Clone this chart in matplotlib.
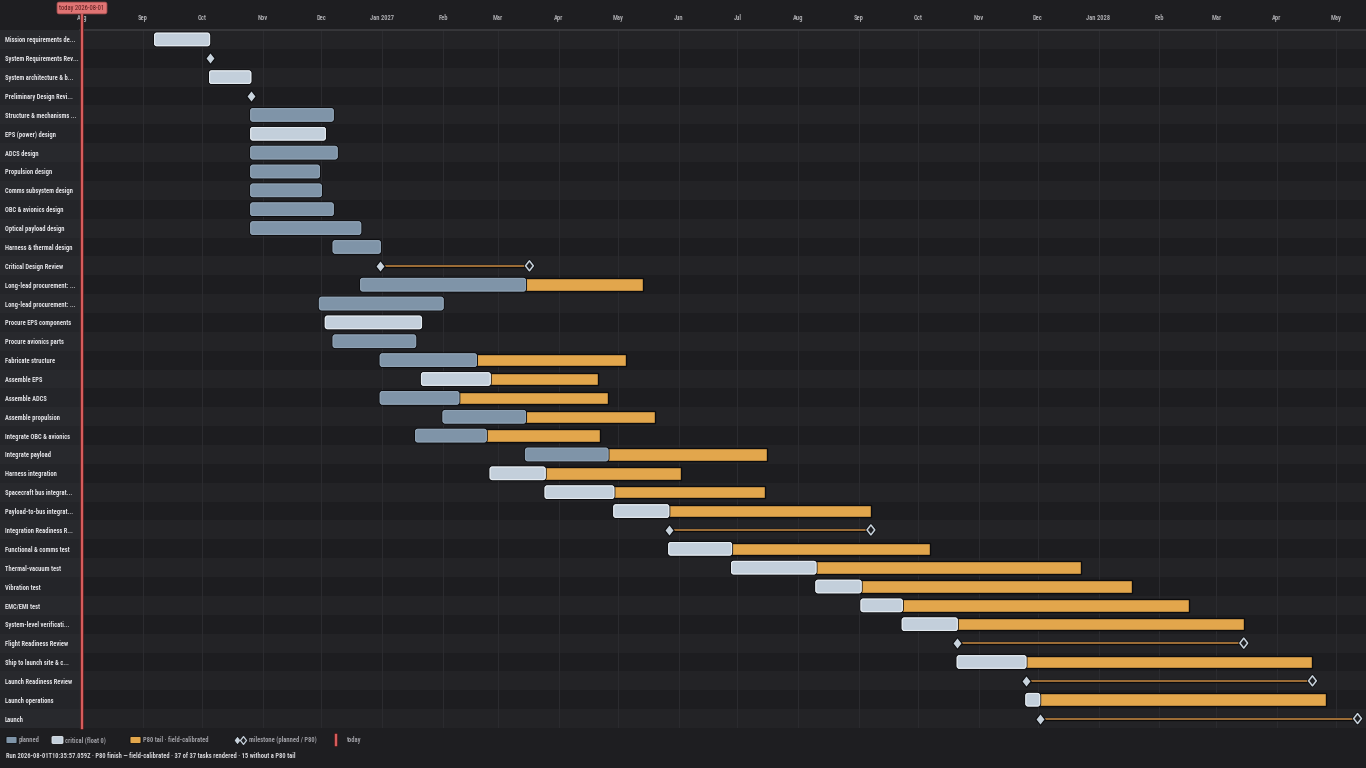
import matplotlib
matplotlib.use("Agg")
import matplotlib.pyplot as plt
import matplotlib.dates as mdates
import matplotlib.patheffects as pe
from matplotlib.patches import FancyBboxPatch, Rectangle
from matplotlib.path import Path
from matplotlib.transforms import blended_transform_factory
from matplotlib import font_manager as fm

# ---------------- data ----------------
task_names = [
    "Mission requirements de...", "System Requirements Rev...", "System architecture & b...",
    "Preliminary Design Revi...", "Structure & mechanisms ...", "EPS (power) design",
    "ADCS design", "Propulsion design", "Comms subsystem design", "OBC & avionics design",
    "Optical payload design", "Harness & thermal design", "Critical Design Review",
    "Long-lead procurement: ...", "Long-lead procurement: ...", "Procure EPS components",
    "Procure avionics parts", "Fabricate structure", "Assemble EPS", "Assemble ADCS",
    "Assemble propulsion", "Integrate OBC & avionics", "Integrate payload",
    "Harness integration", "Spacecraft bus integrat...", "Payload-to-bus integrat...",
    "Integration Readiness R...", "Functional & comms test", "Thermal-vacuum test",
    "Vibration test", "EMC/EMI test", "System-level verificati...", "Flight Readiness Review",
    "Ship to launch site & c...", "Launch Readiness Review", "Launch operations", "Launch",
]
task_kinds = [
    "critical", "milestone", "critical", "milestone", "planned", "critical",
    "planned", "planned", "planned", "planned", "planned", "planned", "milestone",
    "planned", "planned", "critical", "planned", "planned", "critical", "planned",
    "planned", "planned", "planned", "critical", "critical", "critical",
    "milestone", "critical", "critical", "critical", "critical", "critical", "milestone",
    "critical", "milestone", "critical", "milestone",
]
task_starts = [
    "2026-09-07", "2026-10-05", "2026-10-05", "2026-10-26", "2026-10-26", "2026-10-26",
    "2026-10-26", "2026-10-26", "2026-10-26", "2026-10-26", "2026-10-26", "2026-12-07",
    "2026-12-31", "2026-12-21", "2026-11-30", "2026-12-03", "2026-12-07", "2026-12-31",
    "2027-01-21", "2026-12-31", "2027-02-01", "2027-01-18", "2027-03-15", "2027-02-25",
    "2027-03-25", "2027-04-29", "2027-05-27", "2027-05-27", "2027-06-28", "2027-08-10",
    "2027-09-02", "2027-09-23", "2027-10-21", "2027-10-21", "2027-11-25", "2027-11-25",
    "2027-12-02",
]
task_finishes = [
    "2026-10-05", None, "2026-10-26", None, "2026-12-07", "2026-12-03",
    "2026-12-09", "2026-11-30", "2026-12-01", "2026-12-07", "2026-12-21", "2026-12-31",
    None, "2027-03-15", "2027-02-01", "2027-01-21", "2027-01-18", "2027-02-18",
    "2027-02-25", "2027-02-09", "2027-03-15", "2027-02-23", "2027-04-26", "2027-03-25",
    "2027-04-29", "2027-05-27", None, "2027-06-28", "2027-08-10", "2027-09-02",
    "2027-09-23", "2027-10-21", None, "2027-11-25", None, "2027-12-02",
    None,
]
task_p80 = [
    None, None, None, None, None, None,
    None, None, None, None, None, None,
    "2027-03-17", "2027-05-14", None, None, None, "2027-05-05",
    "2027-04-21", "2027-04-26", "2027-05-20", "2027-04-22", "2027-07-16", "2027-06-02",
    "2027-07-15", "2027-09-07", "2027-09-07", "2027-10-07", "2027-12-23", "2028-01-18",
    "2028-02-16", "2028-03-15", "2028-03-15", "2028-04-19", "2028-04-19", "2028-04-26",
    "2028-05-12",
]
today = "2026-08-01"
run_stamp = "2026-08-01T10:35:57.059Z"

# ---------------- style ----------------
W, H = 1366, 768
BG = "#1e1e21"
ROW_A, ROW_B = "#232326", "#1d1d20"
PANEL_A, PANEL_B = "#28292d", "#242529"
PLANNED = "#7f94a8"
CRITICAL = "#c3cfdb"
CRIT_EDGE = "#e4eaf0"
TAIL = "#e2a64c"
OUTLINE = "#0c0c0e"
MS_FILL = "#c8d3dd"
MS_LINE = "#b8803f"
TODAY = "#d65c5c"
GRID = "#2b2b2f"
FS = 4.7

avail = {f.name for f in fm.fontManager.ttflist}
fams = [f for f in ["Roboto Condensed", "IBM Plex Sans Condensed", "Open Sans Condensed",
                    "Liberation Sans Narrow", "DejaVu Sans"] if f in avail] or ["DejaVu Sans"]
plt.rcParams["font.family"] = fams

fig = plt.figure(figsize=(W / 100, H / 100), dpi=100, facecolor=BG)

LEFT, TOP, BOTTOM = 80, 30, 728
ax = fig.add_axes([LEFT / W, 1 - BOTTOM / H, (W - LEFT) / W, (BOTTOM - TOP) / H])
ax.set_facecolor("none")

px_per_day = 1.9624
t0 = mdates.datestr2num(today) - 2 / px_per_day
ax.set_xlim(t0, t0 + (W - LEFT) / px_per_day)
n = len(task_names)
ax.set_ylim(n - 0.5, -0.5)

for s in ax.spines.values():
    s.set_visible(False)

# stripes + label panel
btr = blended_transform_factory(ax.transAxes, ax.transData)
panel_w = LEFT / (W - LEFT)
for i in range(n):
    ax.axhspan(i - 0.5, i + 0.5, color=ROW_A if i % 2 == 0 else ROW_B, lw=0, zorder=0)
    ax.add_patch(Rectangle((-panel_w, i - 0.5), panel_w, 1, transform=btr,
                           color=PANEL_A if i % 2 == 0 else PANEL_B, lw=0,
                           clip_on=False, zorder=0))
ax.plot([0, 0], [-0.5, n - 0.5], transform=btr, color="#2f3034", lw=1, clip_on=False, zorder=1)

# month ticks on top
ax.xaxis.tick_top()
ax.xaxis.set_major_locator(mdates.MonthLocator())
def month_fmt(x, pos=None):
    d = mdates.num2date(x)
    return d.strftime("%b %Y") if d.month == 1 else d.strftime("%b")
ax.xaxis.set_major_formatter(plt.FuncFormatter(month_fmt))
ax.tick_params(axis="x", length=0, pad=5.5, labelsize=FS, labelcolor="#a9a9ad")
for lab in ax.get_xticklabels():
    lab.set_fontweight("bold")
ax.grid(axis="x", color=GRID, lw=0.8, zorder=0.5)
ax.set_axisbelow(True)
ax.axhline(-0.5, color="#3a3a3e", lw=1.2, zorder=1, clip_on=False)

# y labels in the panel
ax.set_yticks(range(n))
ax.set_yticklabels(task_names)
ax.tick_params(axis="y", length=0, pad=(LEFT - 5) * 0.72, labelsize=FS, labelcolor="#e2e2e6")
for lab in ax.get_yticklabels():
    lab.set_horizontalalignment("left")
    lab.set_fontweight("bold")

# bars
bh = 0.66
r_days = 1.1
aspect = (1 / 18.86) / (1 / px_per_day)
outline = [pe.withStroke(linewidth=2.2, foreground=OUTLINE)]
ms_marker = Path([(0, 1), (0.78, 0), (0, -1), (-0.78, 0), (0, 1)],
                 [Path.MOVETO, Path.LINETO, Path.LINETO, Path.LINETO, Path.CLOSEPOLY])

for i in range(n):
    kind = task_kinds[i]
    s = mdates.datestr2num(task_starts[i])
    p = mdates.datestr2num(task_p80[i]) if task_p80[i] else None
    if kind == "milestone":
        if p is not None:
            ax.plot([s, p], [i, i], color=MS_LINE, lw=1.2, zorder=3,
                    path_effects=[pe.withStroke(linewidth=2.4, foreground=OUTLINE)])
            ax.plot([p], [i], marker=ms_marker, ms=7.2, mfc="#1f1f22", mec=MS_FILL,
                    mew=1.1, zorder=4, ls="none",
                    path_effects=[pe.withStroke(linewidth=2.2, foreground=OUTLINE)])
        ax.plot([s], [i], marker=ms_marker, ms=8.6, mfc=MS_FILL, mec=OUTLINE,
                mew=0.8, zorder=5, ls="none")
        continue
    f = mdates.datestr2num(task_finishes[i])
    if p is not None:
        ax.add_patch(Rectangle((f - 1, i - bh / 2), p - f + 1, bh, facecolor=TAIL,
                               edgecolor=OUTLINE, lw=1.0, zorder=3))
    fc = CRITICAL if kind == "critical" else PLANNED
    ec = CRIT_EDGE if kind == "critical" else "#8fa2b4"
    patch = FancyBboxPatch((s, i - bh / 2), f - s, bh,
                           boxstyle=f"round,pad=0,rounding_size={r_days}",
                           mutation_aspect=aspect, facecolor=fc, edgecolor=ec,
                           lw=0.8, zorder=4, path_effects=outline + [pe.Normal()])
    ax.add_patch(patch)

# today line and label
tnum = mdates.datestr2num(today)
ax.axvline(tnum, ymin=0, ymax=1 + 18 / (BOTTOM - TOP), color=TODAY, lw=1.6, zorder=6,
           clip_on=False, path_effects=[pe.withStroke(linewidth=2.8, foreground="#3a1414"), pe.Normal()])
ax.text(tnum, 1 + 22 / (BOTTOM - TOP), f"today {today}", transform=blended_transform_factory(ax.transData, ax.transAxes),
        ha="center", va="center", fontsize=4.8, color="#5a1c1c", zorder=7,
        bbox=dict(boxstyle="round,pad=0.35,rounding_size=0.3", fc="#e07474", ec="#b85656", lw=0.6))

# legend (figure pixel coords)
def fx(x):
    return x / W
def fy(y):
    return 1 - y / H

LY = 740
leg_color = "#9c9ca2"
def swatch(x, color, edge):
    fig.patches.append(FancyBboxPatch((fx(x), fy(LY + 3.5)), 11 / W, 7 / H,
                                      boxstyle="round,pad=0,rounding_size=0.0012",
                                      transform=fig.transFigure, facecolor=color,
                                      edgecolor=edge, lw=0.6, figure=fig))
swatch(6, PLANNED, OUTLINE)
fig.text(fx(19), fy(LY), "planned", fontsize=FS, color=leg_color, va="center", fontweight="bold")
swatch(52, CRITICAL, CRIT_EDGE)
fig.text(fx(65), fy(LY), "critical (float 0)", fontsize=FS, color=leg_color, va="center", fontweight="bold")
swatch(130, TAIL, OUTLINE)
fig.text(fx(143), fy(LY), "P80 tail · field-calibrated", fontsize=FS, color=leg_color, va="center", fontweight="bold")
fig.lines.append(plt.Line2D([fx(237)], [fy(LY)], transform=fig.transFigure, marker=ms_marker,
                            ms=6.2, mfc=MS_FILL, mec=OUTLINE, mew=0.5, ls="none", figure=fig))
fig.lines.append(plt.Line2D([fx(242.8)], [fy(LY)], transform=fig.transFigure, marker=ms_marker,
                            ms=5.6, mfc="#1f1f22", mec=MS_FILL, mew=0.9, ls="none", figure=fig))
fig.text(fx(248.5), fy(LY), "milestone (planned / P80)", fontsize=FS, color=leg_color, va="center", fontweight="bold")
fig.lines.append(plt.Line2D([fx(335.5), fx(335.5)], [fy(LY - 5), fy(LY + 5)], transform=fig.transFigure,
                            color=TODAY, lw=1.6, figure=fig,
                            path_effects=[pe.withStroke(linewidth=2.8, foreground="#3a1414"), pe.Normal()]))
fig.text(fx(347), fy(LY), "today", fontsize=FS, color=leg_color, va="center", fontweight="bold")

n_no_tail = sum(1 for k, p in zip(task_kinds, task_p80) if p is None)
footer = (f"Run {run_stamp} · P80 finish — field-calibrated · {n} of {n} tasks rendered · "
          f"{n_no_tail} without a P80 tail")
fig.text(fx(6), fy(756), footer, fontsize=FS, color="#d6d6da", va="center", fontweight="bold")

fig.savefig("out.png", dpi=100, facecolor=BG)
